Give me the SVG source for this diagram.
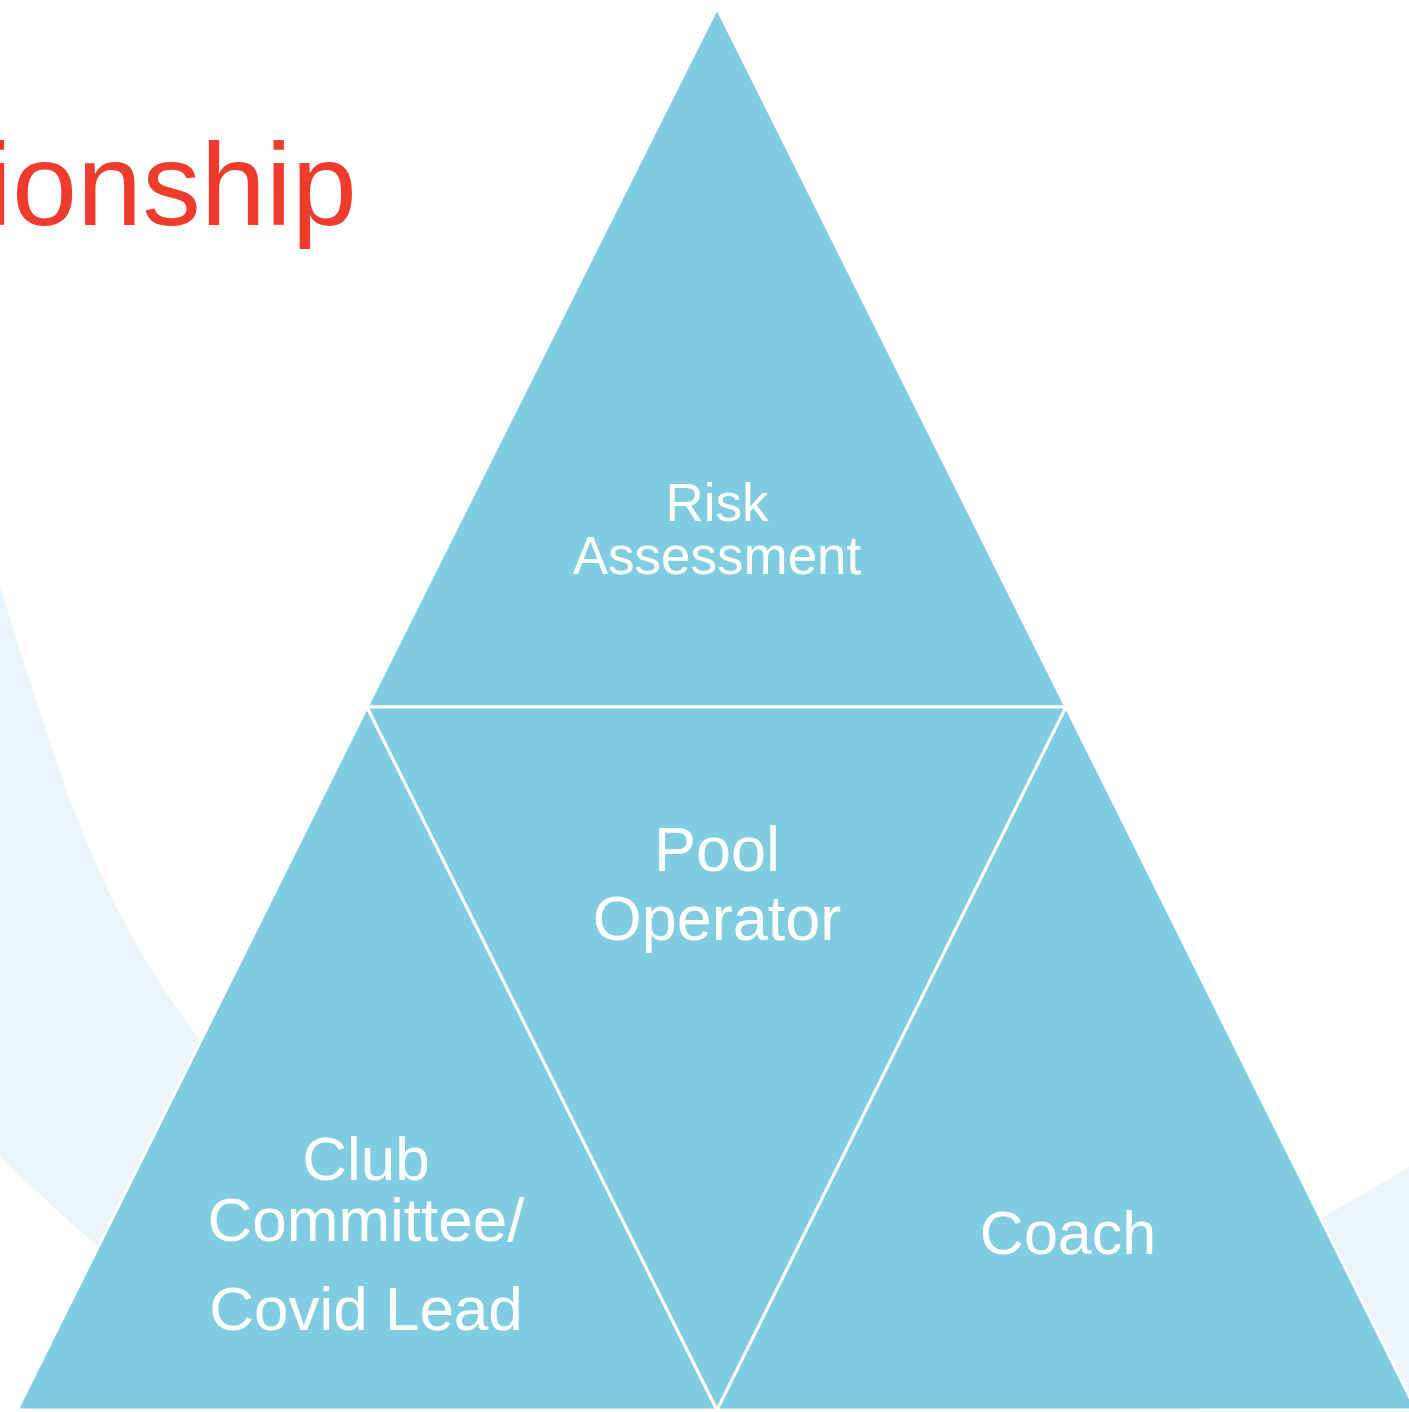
<svg xmlns="http://www.w3.org/2000/svg" width="1409" height="1412" viewBox="0 0 1409 1412">
<style>
.tri{fill:#80CCE1;stroke:#FFFFFF;stroke-width:3;stroke-linejoin:miter}
.lbl{fill:#FFFFFF;font-family:"Liberation Sans",Arial,sans-serif;text-anchor:middle}
.swoosh{fill:#EBF4F8}
</style>
<rect width="1409" height="1412" fill="#FFFFFF"/>
<g id="background">
<path class="swoosh" d="M0,587 C20,650 45,730 70,800 C110,905 150,975 200,1040 L300,1180 L200,1320 C150,1290 90,1245 0,1156 Z"/>
<path class="swoosh" d="M1200,1290 L1409,1167 L1409,1412 L1200,1412 Z"/>
</g>
<text id="title" x="-14" y="225" font-family="Liberation Sans, Arial, sans-serif" font-size="117" fill="#EF3B2B">ionship</text>
<g id="connectors"></g>
<g id="risk-assessment">
<polygon class="tri" points="717,8 1066,707 367,707"/>
<text class="lbl" font-size="53"><tspan x="717" y="521">Risk</tspan><tspan x="717" y="574">Assessment</tspan></text>
</g>
<g id="club-committee">
<polygon class="tri" points="367,707 717,1410 17,1410"/>
<text class="lbl" font-size="62"><tspan x="366" y="1180">Club</tspan><tspan x="366" y="1241">Committee/</tspan><tspan x="366" y="1330">Covid Lead</tspan></text>
</g>
<g id="pool-operator">
<polygon class="tri" points="367,707 1066,707 717,1410"/>
<text class="lbl" font-size="63"><tspan x="717" y="871">Pool</tspan><tspan x="717" y="940">Operator</tspan></text>
</g>
<g id="coach">
<polygon class="tri" points="1066,707 1416,1410 717,1410"/>
<text class="lbl" font-size="61" x="1068" y="1254">Coach</text>
</g>
</svg>
